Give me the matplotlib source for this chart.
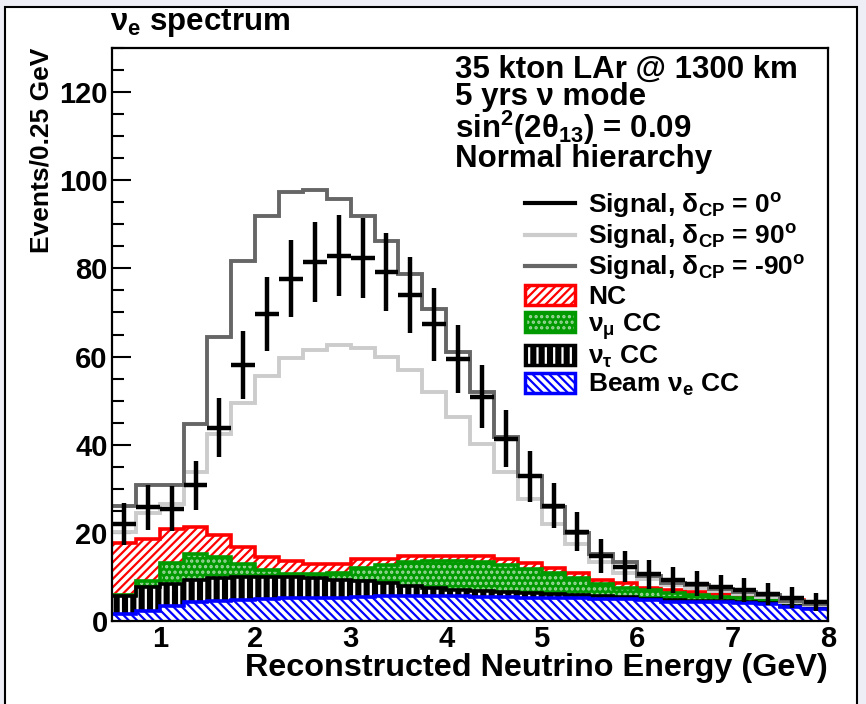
import numpy as np
import matplotlib
matplotlib.use('Agg')
import matplotlib.pyplot as plt
from matplotlib.patches import Patch, Rectangle
from matplotlib.lines import Line2D

# Style: ROOT-like bold Helvetica
plt.rcParams['font.family'] = ['Liberation Sans', 'DejaVu Sans']
plt.rcParams['font.weight'] = 'bold'
plt.rcParams['axes.labelweight'] = 'bold'
plt.rcParams['mathtext.fontset'] = 'custom'
plt.rcParams['mathtext.rm'] = 'Liberation Sans:bold'
plt.rcParams['mathtext.it'] = 'Liberation Sans:bold'
plt.rcParams['mathtext.bf'] = 'Liberation Sans:bold'
plt.rcParams['hatch.linewidth'] = 1.6

# Binning: 0.25 GeV from 0.5 to 8 GeV
E_LO, E_HI, E_STEP = 0.5, 8.0, 0.25
edges = np.arange(E_LO, E_HI + E_STEP / 2, E_STEP)

# Backgrounds (events per bin)
beam_nue = [1.5, 2.3, 3.5, 4.3, 4.6, 4.7, 5.1, 5.2, 5.3, 5.3, 5.5, 5.6, 5.6, 5.6, 5.6,
            5.5, 5.4, 5.3, 5.3, 5.2, 5.0, 4.9, 4.7, 4.4, 4.3, 4.2, 4.0, 3.8, 3.2, 2.7]
nutau_cc = [4.1, 5.4, 5.0, 4.9, 5.2, 5.2, 4.8, 4.7, 4.5, 4.1, 3.6, 3.0, 2.4, 1.8, 1.4,
            1.2, 1.1, 1.0, 0.8, 0.7, 0.6, 0.5, 0.4, 0.4, 0.3, 0.3, 0.3, 0.3, 0.3, 0.3]
numu_cc = [0.2, 1.3, 4.6, 6.0, 4.7, 3.0, 1.6, 0.7, 0.8, 1.6, 2.9, 4.0, 5.4, 6.3, 6.7,
           6.7, 6.3, 5.5, 4.7, 3.8, 2.8, 2.2, 1.9, 1.6, 1.3, 1.0, 0.9, 0.7, 0.7, 0.8]
nc = [12.0, 9.6, 7.8, 6.2, 5.0, 3.8, 3.0, 2.9, 2.4, 2.0, 2.0, 1.4, 1.3, 1.1, 1.1,
      1.3, 1.2, 1.3, 1.2, 1.3, 0.9, 1.0, 0.6, 0.6, 0.6, 0.6, 0.6, 0.5, 0.5, 0.1]

# Signal + background for three values of delta_CP
sig_0 = [22.0, 25.8, 25.5, 30.8, 43.9, 58.1, 69.7, 77.7, 81.4, 82.9, 82.4, 79.2, 74.0, 67.3, 59.4,
         50.9, 41.4, 32.8, 26.2, 20.3, 14.8, 12.3, 10.6, 9.3, 8.5, 7.7, 7.0, 6.2, 5.3, 4.3]
sig_90 = [20.1, 24.5, 26.6, 33.8, 42.5, 49.4, 55.6, 59.6, 61.5, 62.6, 61.9, 60.0, 57.0, 52.0, 46.3,
          40.2, 33.8, 27.7, 22.0, 17.5, 13.3, 11.0, 9.5, 8.2, 7.6, 6.8, 6.1, 5.5, 4.4, 3.7]
sig_m90 = [26.2, 30.9, 30.9, 44.6, 64.5, 81.6, 91.9, 97.3, 97.8, 95.7, 91.9, 86.2, 78.7, 70.8, 61.1,
           52.0, 41.8, 33.0, 25.8, 19.9, 15.2, 13.3, 10.3, 8.7, 8.1, 7.2, 6.5, 5.9, 4.6, 3.9]

X_TICKS = [1, 2, 3, 4, 5, 6, 7, 8]
Y_TICKS = [0, 20, 40, 60, 80, 100, 120]

RED, GREEN, BLUE = '#ff0000', '#009a00', '#0000ff'
DARK_GREY, LIGHT_GREY = '#666666', '#cccccc'

fig = plt.figure(figsize=(8.66, 7.04), dpi=100, facecolor='#eeeef6')
fig.add_artist(Rectangle((5 / 866, -0.05), 852 / 866, 1.05 - 7 / 704,
                         transform=fig.transFigure, facecolor='white',
                         edgecolor='black', lw=1.5, zorder=-1))
ax = fig.add_axes([112 / 866, 83 / 704, 716 / 866, 573 / 704])
ax.set_axisbelow(True)

# Stacked backgrounds, drawn as cumulative histograms from the top down
cum_blue = np.array(beam_nue)
cum_black = cum_blue + np.array(nutau_cc)
cum_green = cum_black + np.array(numu_cc)
cum_red = cum_green + np.array(nc)

stack = [
    (cum_red, 'white', RED, '////', RED),
    (cum_green, GREEN, '#9fd89f', '...', GREEN),
    (cum_black, 'black', 'white', '||', 'black'),
    (cum_blue, 'white', BLUE, '\\\\\\\\', BLUE),
]
for vals, fc, hc, hatch, lc in stack:
    ax.stairs(vals, edges, baseline=0, fill=True, facecolor=fc, edgecolor=hc,
              hatch=hatch, lw=0, zorder=1)
    ax.stairs(vals, edges, baseline=None, color=lc, lw=2.6, zorder=1.5)

ax.stairs(sig_90, edges, baseline=None, color=LIGHT_GREY, lw=2.8, zorder=2)
ax.stairs(sig_m90, edges, baseline=None, color=DARK_GREY, lw=2.8, zorder=2.2)

centers = 0.5 * (edges[:-1] + edges[1:])
ax.errorbar(centers, sig_0, yerr=np.sqrt(sig_0), xerr=E_STEP / 2, fmt='none',
            ecolor='black', elinewidth=3.2, capsize=0, zorder=3)

ax.set_xlim(E_LO, E_HI)
ax.set_ylim(0, 130)
ax.set_xticks(X_TICKS)
ax.set_yticks(Y_TICKS)
ax.set_yticks(np.arange(0, 131, 5), minor=True)
ax.tick_params(axis='y', which='major', direction='in', length=14, width=1.5,
               labelsize=21, pad=3)
ax.tick_params(axis='y', which='minor', direction='in', length=8.5, width=1.5)
ax.tick_params(axis='x', which='both', length=0, labelsize=21, pad=3)
for s in ax.spines.values():
    s.set_linewidth(1.6)

ax.set_xlabel('Reconstructed Neutrino Energy (GeV)', fontsize=23.3, loc='right', labelpad=0)
ax.set_ylabel('Events/0.25 GeV', fontsize=19, loc='top', labelpad=4)

fig.text(110 / 866, 1 - 23 / 704, r'ν$_{\mathrm{e}}$ spectrum', fontsize=22.5,
         va='center', ha='left')

info = ['35 kton LAr @ 1300 km', '5 yrs ν mode',
        r'sin$^{\mathrm{2}}$(2θ$_{\mathrm{13}}$) = 0.09', 'Normal hierarchy']
ax.text(0.479, (621 - 55) / 573, '\n'.join(info), transform=ax.transAxes,
        fontsize=22.5, va='top', ha='left', linespacing=0.87)

handles = [
    Line2D([], [], color='black', lw=3),
    Line2D([], [], color=LIGHT_GREY, lw=3),
    Line2D([], [], color=DARK_GREY, lw=3),
    (Patch(facecolor='white', edgecolor=RED, hatch='////', lw=0),
     Patch(facecolor='none', edgecolor=RED, lw=2.5)),
    (Patch(facecolor=GREEN, edgecolor='#9fd89f', hatch='...', lw=0),
     Patch(facecolor='none', edgecolor=GREEN, lw=2.5)),
    (Patch(facecolor='black', edgecolor='white', hatch='||', lw=0),
     Patch(facecolor='none', edgecolor='black', lw=2.5)),
    (Patch(facecolor='white', edgecolor=BLUE, hatch='\\\\\\\\', lw=0),
     Patch(facecolor='none', edgecolor=BLUE, lw=2.5)),
]
labels = [
    r'Signal, δ$_{\mathrm{CP}}$ = 0$^{\mathrm{o}}$',
    r'Signal, δ$_{\mathrm{CP}}$ = 90$^{\mathrm{o}}$',
    r'Signal, δ$_{\mathrm{CP}}$ = -90$^{\mathrm{o}}$',
    'NC',
    r'ν$_{\mathrm{μ}}$ CC',
    r'ν$_{\mathrm{τ}}$ CC',
    r'Beam ν$_{\mathrm{e}}$ CC',
]
ax.legend(handles, labels, loc='upper left', bbox_to_anchor=(0.577, 0.75),
          frameon=False, fontsize=19, handlelength=1.9, handleheight=0.8,
          handletextpad=0.5, labelspacing=0.08, borderpad=0, borderaxespad=0)

fig.savefig('out.png', dpi=100, facecolor=fig.get_facecolor())
